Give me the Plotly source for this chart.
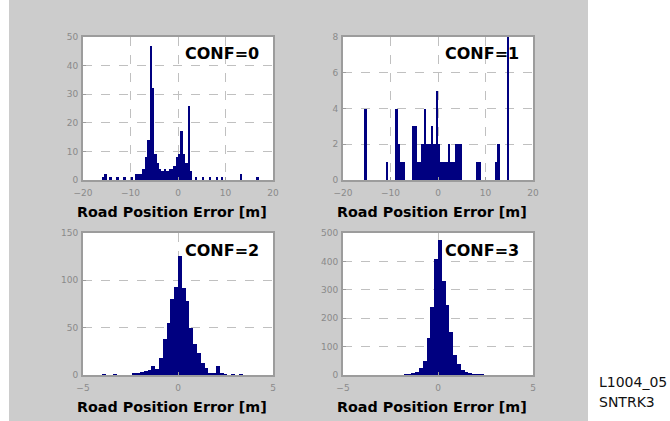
import plotly.graph_objects as go

W, H = 670, 421

# ---------------- data (histogram bin centres and counts) ----------------
conf0_x = [-15.75, -15.25, -14.25, -12.75, -11.25, -9.75, -8.75, -8.25, -7.75, -7.25,
           -6.75, -6.25, -5.75, -5.25, -4.75, -4.25, -3.75, -3.25, -2.75, -2.25,
           -1.75, -1.25, -0.75, -0.25, 0.25, 0.75, 1.25, 1.75, 2.25, 2.75,
           3.75, 5.25, 6.75, 8.25, 9.25, 13.25, 16.75]
conf0_n = [1, 2, 1, 1, 1, 1, 2, 2, 2, 4,
           8, 14, 47, 32, 9, 6, 4, 3, 4, 3,
           4, 4, 5, 8, 9, 17, 9, 6, 26, 3,
           1, 1, 1, 1, 1, 2, 1]

conf1_x = [-15.25, -10.75, -8.75, -8.25, -7.75, -7.25, -5.25, -4.75, -4.25, -3.75,
           -3.25, -2.75, -2.25, -1.75, -1.25, -0.75, -0.25, 0.25, 0.75, 1.25,
           1.75, 2.25, 2.75, 3.25, 3.75, 4.25, 4.75, 8.25, 8.75, 12.25,
           12.75, 14.75]
conf1_n = [4, 1, 4, 2, 1, 1, 3, 3, 1, 1,
           2, 4, 2, 2, 3, 2, 5, 2, 1, 1,
           1, 2, 1, 1, 2, 2, 2, 1, 1, 1,
           2, 8]

conf2_x = [-3.9, -3.3, -2.3, -2.1, -1.9, -1.7, -1.5, -1.3, -1.1, -0.9,
           -0.7, -0.5, -0.3, -0.1, 0.1, 0.3, 0.5, 0.7, 0.9, 1.1,
           1.3, 1.5, 1.7, 1.9, 2.1, 2.3, 2.5, 2.9, 3.3]
conf2_n = [1, 1, 2, 2, 3, 4, 5, 10, 6, 18,
           38, 55, 80, 93, 126, 92, 78, 50, 33, 23,
           13, 7, 2, 2, 10, 2, 1, 1, 1]

conf3_x = [-1.7, -1.5, -1.3, -1.1, -0.9, -0.7, -0.5, -0.3, -0.1, 0.1,
           0.3, 0.5, 0.7, 0.9, 1.1, 1.3, 1.5, 1.7, 1.9, 2.1, 2.3]
conf3_n = [1, 2, 5, 10, 24, 50, 130, 240, 410, 475,
           330, 247, 150, 70, 38, 18, 12, 4, 2, 2, 1]

conf_labels = ["CONF=0", "CONF=1", "CONF=2", "CONF=3"]
xaxis_label = "Road Position Error [m]"
corner_labels = ["L1004_05", "SNTRK3"]

wide_xticks = [-20, -10, 0, 10, 20]
narrow_xticks = [-5, 0, 5]
conf0_yticks = [0, 10, 20, 30, 40, 50]
conf1_yticks = [0, 2, 4, 6, 8]
conf2_yticks = [0, 50, 100, 150]
conf3_yticks = [0, 100, 200, 300, 400, 500]

# ---------------- layout geometry (pixels) ----------------
boxes = [(83, 273, 37, 180), (343, 533, 37, 180),
         (83, 273, 233, 375), (343, 533, 233, 375)]
panels = [
    (conf0_x, conf0_n, [-20, 20], [0, 50], wide_xticks, conf0_yticks),
    (conf1_x, conf1_n, [-20, 20], [0, 8], wide_xticks, conf1_yticks),
    (conf2_x, conf2_n, [-5, 5], [0, 150], narrow_xticks, conf2_yticks),
    (conf3_x, conf3_n, [-5, 5], [0, 500], narrow_xticks, conf3_yticks),
]

NAVY = "#000080"
TICKFONT = dict(family="DejaVu Sans", size=9, color="#8a8a8a")

fig = go.Figure()
layout = dict(
    width=W, height=H,
    margin=dict(l=0, r=0, t=0, b=0, autoexpand=False),
    paper_bgcolor="white",
    plot_bgcolor="rgba(0,0,0,0)",
    showlegend=False,
    bargap=0,
    annotations=[],
    shapes=[],
)

# grey figure panel
layout["shapes"].append(dict(type="rect", xref="paper", yref="paper",
                             x0=9 / W, x1=588 / W, y0=0, y1=1,
                             fillcolor="#cccccc", line=dict(width=0), layer="below"))

for i, ((xs, ns, xr, yr, xt, yt), (l, r, t, b)) in enumerate(zip(panels, boxes)):
    k = "" if i == 0 else str(i + 1)
    fig.add_trace(go.Bar(x=xs, y=ns, marker=dict(color=NAVY, line=dict(width=0)),
                         xaxis="x" + k, yaxis="y" + k))
    common = dict(showline=True, mirror=True, linecolor="#9c9c9c", linewidth=2,
                  showgrid=True, gridcolor="#c0c0c0", griddash="dash", gridwidth=1,
                  zeroline=False, ticks="inside", ticklen=3, tickcolor="#9c9c9c",
                  tickfont=TICKFONT, fixedrange=True)
    layout["xaxis" + k] = dict(domain=[l / W, r / W], range=xr, tickvals=xt,
                               anchor="y" + k, ticklabelstandoff=3, **common)
    layout["yaxis" + k] = dict(domain=[1 - b / H, 1 - t / H], range=yr, tickvals=yt,
                               anchor="x" + k, ticklabelstandoff=1, **common)
    # white axes background
    layout["shapes"].append(dict(type="rect", xref="paper", yref="paper",
                                 x0=l / W, x1=r / W, y0=1 - b / H, y1=1 - t / H,
                                 fillcolor="white", line=dict(width=0), layer="below"))
    # CONF label inside the plot
    layout["annotations"].append(dict(
        text="<b>" + conf_labels[i] + "</b>", xref="paper", yref="paper",
        x=(r - 51) / W, y=1 - (t + 17) / H, xanchor="center", yanchor="middle",
        showarrow=False, font=dict(family="DejaVu Sans", size=16, color="black")))
    # x-axis label under each plot
    layout["annotations"].append(dict(
        text="<b>" + xaxis_label + "</b>", xref="paper", yref="paper",
        x=((l + r) / 2 - 6) / W, y=1 - (b + 32) / H, xanchor="center", yanchor="middle",
        showarrow=False, font=dict(family="DejaVu Sans", size=14.3, color="black")))

# corner identification text
for j, txt in enumerate(corner_labels):
    layout["annotations"].append(dict(
        text=txt, xref="paper", yref="paper", x=597 / W, y=1 - (382 + 20 * j) / H,
        xanchor="left", yanchor="middle", showarrow=False,
        font=dict(family="DejaVu Sans", size=14, color="#111111")))

fig.update_layout(**layout)
fig.write_html("out.html", config={"displayModeBar": False})
